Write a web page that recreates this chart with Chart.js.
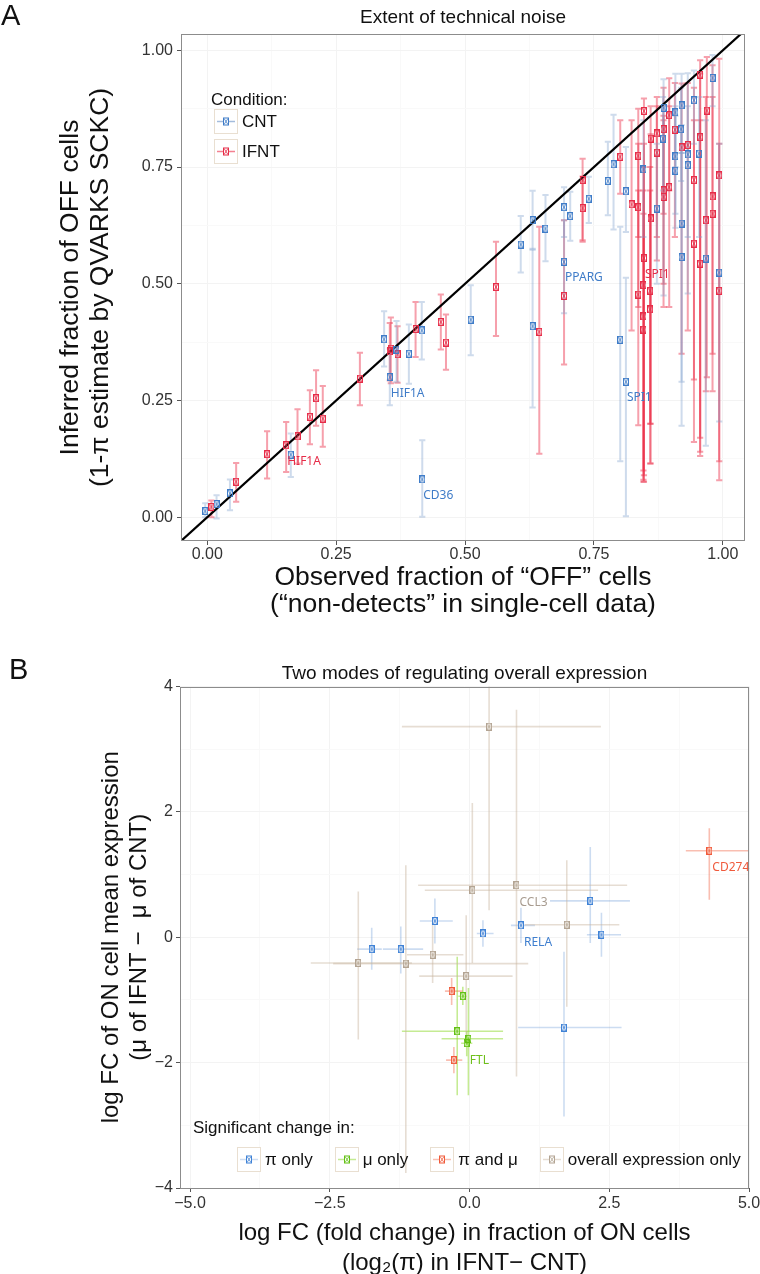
<!DOCTYPE html>
<html>
<head>
<meta charset="utf-8">
<script src="https://cdn.jsdelivr.net/npm/chart.js@4.4.0/dist/chart.umd.min.js"></script>
<style>
html,body{margin:0;padding:0;width:760px;height:1274px;overflow:hidden;background:#fff;font-family:'Liberation Sans',Arial,Helvetica,sans-serif;color:#111;}
.wrap{position:absolute;left:0;width:760px;}
#wrapA{top:0;height:625px;}
#wrapB{top:625px;height:660px;}
.panel{position:absolute;font-size:29px;line-height:29px;color:#111;}
.leg{position:absolute;font-size:17px;color:#111;}
.legtitle{position:absolute;font-size:17px;line-height:20px;color:#111;white-space:nowrap;}
.item{display:flex;align-items:center;height:25px;white-space:nowrap;flex-shrink:0;}
.item svg{display:block;margin-right:4px;flex-shrink:0;}
.row{position:absolute;display:flex;align-items:center;width:560px;}
.row .item{margin-right:22px;}
</style>
</head>
<body>
<div class="wrap" id="wrapA"><canvas id="chartA" width="760" height="625"></canvas></div>
<div class="wrap" id="wrapB"><canvas id="chartB" width="760" height="660"></canvas></div>
<div class="panel" style="left:1px;top:1px;">A</div>
<div class="panel" style="left:9px;top:655px;">B</div>
<div class="legtitle" style="left:211px;top:90px;">Condition:</div>
<div class="leg" id="legA" style="left:214px;top:109px;"></div>
<div class="legtitle" style="left:193px;top:1118px;">Significant change in:</div>
<div class="row" id="legB" style="left:237px;top:1147px;"></div>
<script>
// ---------------- Panel A data: [observed x, inferred y, lower, upper] ----------------
const xTicksA = [0, 0.25, 0.5, 0.75, 1];
const yTicksA = [0, 0.25, 0.5, 0.75, 1];
const seriesNamesA = ['CNT', 'IFNT'];
const cntPts = [
  [-0.004, 0.013, 0.000, 0.030],
  [0.018, 0.028, -0.003, 0.047],
  [0.044, 0.051, 0.015, 0.081],
  [0.162, 0.134, 0.086, 0.179],
  [0.343, 0.381, 0.323, 0.441],
  [0.354, 0.300, 0.240, 0.361],
  [0.367, 0.359, 0.290, 0.420],
  [0.391, 0.350, 0.286, 0.413],
  [0.416, 0.400, 0.338, 0.461],
  [0.417, 0.081, 0.001, 0.165],
  [0.511, 0.423, 0.347, 0.497],
  [0.608, 0.584, 0.524, 0.645],
  [0.631, 0.636, 0.573, 0.699],
  [0.631, 0.409, 0.235, 0.575],
  [0.656, 0.618, 0.548, 0.690],
  [0.692, 0.664, 0.600, 0.707],
  [0.692, 0.547, 0.437, 0.636],
  [0.704, 0.645, 0.592, 0.697],
  [0.740, 0.682, 0.630, 0.729],
  [0.777, 0.720, 0.647, 0.804],
  [0.788, 0.756, 0.616, 0.862],
  [0.801, 0.380, 0.120, 0.622],
  [0.812, 0.698, 0.611, 0.793],
  [0.812, 0.290, 0.002, 0.513],
  [0.846, 0.745, 0.600, 0.850],
  [0.872, 0.661, 0.500, 0.800],
  [0.884, 0.811, 0.700, 0.900],
  [0.885, 0.877, 0.475, 0.938],
  [0.908, 0.867, 0.750, 0.950],
  [0.908, 0.773, 0.650, 0.880],
  [0.908, 0.742, 0.620, 0.860],
  [0.919, 0.831, 0.720, 0.920],
  [0.920, 0.882, 0.780, 0.950],
  [0.920, 0.629, 0.196, 0.840],
  [0.920, 0.557, 0.290, 0.780],
  [0.932, 0.777, 0.479, 0.951],
  [0.932, 0.754, 0.600, 0.880],
  [0.944, 0.893, 0.800, 0.957],
  [0.954, 0.779, 0.600, 0.900],
  [0.967, 0.554, 0.153, 0.850],
  [0.980, 0.941, 0.880, 0.990],
  [0.993, 0.524, 0.205, 0.800]
];
const ifntPts = [
  [0.008, 0.022, 0.000, 0.036],
  [0.056, 0.076, 0.033, 0.116],
  [0.116, 0.135, 0.083, 0.184],
  [0.153, 0.154, 0.097, 0.204],
  [0.175, 0.173, 0.115, 0.231],
  [0.199, 0.215, 0.156, 0.272],
  [0.211, 0.255, 0.196, 0.315],
  [0.224, 0.211, 0.151, 0.281],
  [0.296, 0.297, 0.240, 0.352],
  [0.354, 0.355, 0.293, 0.416],
  [0.356, 0.361, 0.287, 0.428],
  [0.369, 0.349, 0.288, 0.409],
  [0.404, 0.403, 0.343, 0.461],
  [0.453, 0.418, 0.359, 0.477],
  [0.463, 0.374, 0.316, 0.434],
  [0.560, 0.493, 0.388, 0.590],
  [0.644, 0.397, 0.136, 0.622],
  [0.692, 0.474, 0.327, 0.636],
  [0.728, 0.722, 0.593, 0.768],
  [0.728, 0.662, 0.590, 0.730],
  [0.801, 0.772, 0.693, 0.850],
  [0.823, 0.670, 0.400, 0.850],
  [0.836, 0.774, 0.600, 0.875],
  [0.836, 0.664, 0.450, 0.800],
  [0.836, 0.477, 0.197, 0.700],
  [0.847, 0.870, 0.076, 0.897],
  [0.847, 0.555, 0.090, 0.800],
  [0.846, 0.497, 0.080, 0.750],
  [0.846, 0.430, 0.100, 0.700],
  [0.846, 0.402, 0.076, 0.650],
  [0.860, 0.811, 0.115, 0.880],
  [0.860, 0.640, 0.200, 0.820],
  [0.859, 0.485, 0.115, 0.750],
  [0.859, 0.445, 0.200, 0.700],
  [0.872, 0.822, 0.600, 0.900],
  [0.872, 0.781, 0.550, 0.880],
  [0.885, 0.831, 0.650, 0.920],
  [0.885, 0.700, 0.450, 0.860],
  [0.885, 0.686, 0.500, 0.850],
  [0.896, 0.861, 0.700, 0.940],
  [0.896, 0.707, 0.450, 0.880],
  [0.907, 0.830, 0.600, 0.930],
  [0.920, 0.792, 0.350, 0.929],
  [0.932, 0.797, 0.400, 0.930],
  [0.944, 0.722, 0.161, 0.920],
  [0.944, 0.586, 0.295, 0.850],
  [0.956, 0.814, 0.140, 0.950],
  [0.956, 0.948, 0.131, 0.979],
  [0.956, 0.543, 0.170, 0.850],
  [0.967, 0.636, 0.270, 0.900],
  [0.969, 0.871, 0.300, 0.986],
  [0.980, 0.687, 0.270, 0.968],
  [0.980, 0.650, 0.350, 0.900],
  [0.993, 0.732, 0.079, 0.982],
  [0.993, 0.485, 0.120, 0.800]
];
const identityLine = [-0.1, 1.1];
// gene labels: [text, series, point index]
const geneLabelsA = [
  ['HIF1A', 'CNT', 5], ['HIF1A', 'IFNT', 3], ['CD36', 'CNT', 9],
  ['PPARG', 'CNT', 16], ['SPI1', 'CNT', 23], ['SPI1', 'IFNT', 26]
];

// ---------------- Panel B data: [x, y, xLow, xHigh, yLow, yHigh] ----------------
const xTicksB = [-5, -2.5, 0, 2.5, 5];
const yTicksB = [-4, -2, 0, 2, 4];
const seriesNamesB = ['π only', 'μ only', 'π and μ', 'overall expression only'];
const piOnlyPts = [
  [-1.75, -0.19, -2.01, -1.57, -0.52, 0.15],
  [-1.23, -0.19, -1.55, -0.83, -0.58, 0.17],
  [-0.62, 0.26, -0.89, -0.30, -0.10, 0.62],
  [0.24, 0.06, 0.13, 0.43, -0.15, 0.27],
  [0.92, 0.19, 0.74, 1.17, -0.09, 0.47],
  [2.16, 0.58, 1.44, 2.87, -0.09, 1.44],
  [2.36, 0.04, 2.10, 2.71, -0.31, 0.39],
  [1.69, -1.44, 0.87, 2.72, -2.86, -0.23]
];
const muOnlyPts = [
  [-0.12, -0.94, -0.20, -0.05, -1.08, -0.79],
  [-0.22, -1.50, -1.21, 0.60, -2.52, -0.31],
  [-0.02, -1.62, -0.50, 0.60, -2.52, -0.81],
  [-0.05, -1.69, -0.15, 0.05, -1.90, -1.50]
];
const piMuPts = [
  [-0.32, -0.86, -0.44, -0.12, -1.08, -0.65],
  [-0.28, -1.96, -0.42, -0.13, -2.17, -1.75],
  [4.29, 1.38, 3.87, 5.05, 0.60, 1.74]
];
const overallPts = [
  [0.35, 3.36, -1.21, 2.35, 0.43, 4.20],
  [0.84, 0.83, -0.92, 2.82, -2.22, 3.63],
  [0.05, 0.75, -0.80, 2.30, -0.41, 2.14],
  [1.74, 0.20, 0.99, 2.68, -1.11, 1.23],
  [-1.99, -0.41, -2.84, -1.03, -1.63, 0.73],
  [-1.14, -0.42, -2.44, 1.05, -3.76, 1.15],
  [-0.66, -0.28, -1.12, -0.11, -0.73, 0.23],
  [-0.06, -0.62, -0.90, 0.77, -1.60, 0.35]
];
const geneLabelsB = [
  ['CCL3', 'overall', 1], ['RELA', 'pi', 4], ['CD274', 'pimu', 2], ['FTL', 'mu', 3]
];

// ---------------- styling ----------------
Chart.defaults.font.family = "'Liberation Sans', Arial, Helvetica, sans-serif";
Chart.defaults.color = '#222';
Chart.defaults.animation = false;

const colA = {
  CNT: {mark: '#3f7cc8', bar: 'rgba(125,160,205,0.38)', key: 'rgba(125,160,205,0.7)'},
  IFNT: {mark: '#e62c48', bar: 'rgba(236,45,72,0.45)', key: 'rgba(236,45,72,0.6)'}
};
const colB = {
  pi: {mark: '#3f82d6', bar: 'rgba(95,145,210,0.32)', text: '#3f7fcf'},
  mu: {mark: '#62c014', bar: 'rgba(140,215,40,0.5)', text: '#6fbf1c'},
  pimu: {mark: '#f05a3a', bar: 'rgba(240,100,70,0.42)', text: '#f05a3c'},
  overall: {mark: '#b3a493', bar: 'rgba(200,180,158,0.45)', text: '#a89c90'}
};

function markerCanvas(color, w, h) {
  const c = document.createElement('canvas');
  c.width = w; c.height = h;
  const g = c.getContext('2d');
  g.strokeStyle = color; g.lineWidth = 1;
  g.strokeRect(0.5, 0.5, w - 1, h - 1);
  g.lineWidth = 0.8;
  g.beginPath();
  g.moveTo(1, 1); g.lineTo(w - 1, h - 1);
  g.moveTo(w - 1, 1); g.lineTo(1, h - 1);
  g.stroke();
  return c;
}

function vBars(pts, color, width, cap) {
  return pts.map(p => {
    const x = p[0], lo = p[2], hi = p[3];
    return {
      data: [{x, y: lo}, {x, y: hi}, {x, y: null},
             {x: x - cap, y: lo}, {x: x + cap, y: lo}, {x, y: null},
             {x: x - cap, y: hi}, {x: x + cap, y: hi}],
      showLine: true, spanGaps: false, borderColor: color, borderWidth: width,
      pointRadius: 0, pointHoverRadius: 0, order: 3
    };
  });
}
function crossBars(pts, color, width) {
  return pts.map(p => {
    const [x, y, xl, xh, yl, yh] = p;
    return {
      data: [{x: xl, y}, {x: xh, y}, {x, y: null}, {x, y: yl}, {x, y: yh}],
      showLine: true, spanGaps: false, borderColor: color, borderWidth: width,
      pointRadius: 0, pointHoverRadius: 0, order: 3
    };
  });
}
function pointsDs(pts, color, w, h) {
  return {
    data: pts.map(p => ({x: p[0], y: p[1]})),
    pointStyle: markerCanvas(color, w, h), pointRadius: 4, pointHoverRadius: 4,
    showLine: false, order: 0
  };
}

const frame = {
  id: 'frame',
  afterDraw(chart) {
    const {ctx, chartArea: a} = chart;
    ctx.save();
    ctx.strokeStyle = '#8c8c8c'; ctx.lineWidth = 1;
    ctx.strokeRect(Math.round(a.left) + 0.5, Math.round(a.top) + 0.5,
                   Math.round(a.right - a.left) - 1, Math.round(a.bottom - a.top) - 1);
    ctx.restore();
  }
};
const geneLabels = {
  id: 'geneLabels',
  afterDatasetsDraw(chart, args, opts) {
    const {ctx, scales: {x, y}} = chart;
    ctx.save();
    ctx.font = opts.font;
    ctx.textAlign = 'left'; ctx.textBaseline = 'middle';
    opts.items.forEach(it => {
      ctx.fillStyle = it.color;
      ctx.fillText(it.text, x.getPixelForValue(it.x) + opts.dx, y.getPixelForValue(it.y) + opts.dy);
    });
    ctx.restore();
  }
};

function steps(a, b, s) { const out = []; for (let v = a; v <= b + 1e-9; v += s) out.push(+v.toFixed(4)); return out; }

function makeScale(o) {
  const majors = new Set(o.major);
  return {
    type: 'linear', min: o.min, max: o.max,
    afterBuildTicks: s => { s.ticks = o.grid.map(v => ({value: v})); },
    afterFit: s => {
      if (o.width !== undefined) s.width = o.width;
      if (o.height !== undefined) s.height = o.height;
      s.paddingLeft = 0; s.paddingRight = 0; s.paddingTop = 0; s.paddingBottom = 0;
    },
    ticks: {
      autoSkip: false, maxRotation: 0, minRotation: 0, padding: o.tpad,
      font: {size: 16}, color: '#333',
      callback: v => majors.has(v) ? o.fmt(v) : ''
    },
    grid: {
      color: c => (c.tick && majors.has(c.tick.value)) ? '#f3f3f3' : '#f9f9f9',
      tickColor: c => (c.tick && majors.has(c.tick.value)) ? '#555' : 'rgba(0,0,0,0)',
      tickLength: 4, lineWidth: 1
    },
    border: {display: false},
    title: {display: true, text: o.title, color: '#111', font: o.tfont, padding: o.tpadding}
  };
}

// ---------------- Chart A ----------------
const capA = 0.006;
const dsA = [].concat(
  vBars(cntPts, colA.CNT.bar, 2, capA),
  vBars(ifntPts, colA.IFNT.bar, 2, capA),
  [{data: identityLine.map(v => ({x: v, y: v})), showLine: true, borderColor: '#000', borderWidth: 2.2, pointRadius: 0, order: 1}],
  [pointsDs(cntPts, colA.CNT.mark, 6, 8), pointsDs(ifntPts, colA.IFNT.mark, 6, 8)]
);
const ptsBySeriesA = {CNT: cntPts, IFNT: ifntPts};

new Chart(document.getElementById('chartA'), {
  type: 'scatter',
  data: {datasets: dsA},
  plugins: [frame, geneLabels],
  options: {
    responsive: false, animation: false,
    layout: {padding: {left: 0, right: 15, top: 0, bottom: 0}},
    plugins: {
      legend: {display: false}, tooltip: {enabled: false},
      title: {display: true, text: 'Extent of technical noise', fullSize: false, color: '#111',
              font: {size: 19, weight: 'normal', lineHeight: 1.2}, padding: {top: 6, bottom: 5.2}},
      geneLabels: {
        font: "12px 'Noto Sans', 'Open Sans', sans-serif", dx: 1, dy: 16,
        items: geneLabelsA.map(([t, s, i]) => ({text: t, x: ptsBySeriesA[s][i][0], y: ptsBySeriesA[s][i][1], color: colA[s].mark}))
      }
    },
    scales: {
      x: makeScale({min: -0.051, max: 1.043, major: xTicksA, grid: steps(0, 1, 0.125), fmt: v => v.toFixed(2), tpad: 0,
        height: 84, title: ['Observed fraction of \u201cOFF\u201d cells', '(\u201cnon-detects\u201d in single-cell data)'],
        tfont: {size: 26.5, lineHeight: 1.02}, tpadding: {top: 0, bottom: 6.5}}),
      y: makeScale({min: -0.051, max: 1.035, major: yTicksA, grid: steps(0, 1, 0.125), fmt: v => v.toFixed(2), tpad: 4,
        width: 181, title: ['Inferred fraction of OFF cells', '(1-\u03c0 estimate by QVARKS SCKC)'],
        tfont: {size: 26.5, lineHeight: 1.13}, tpadding: {top: 56, bottom: 0}})
    }
  }
});

// ---------------- Chart B ----------------
const ptsBySeriesB = {pi: piOnlyPts, mu: muOnlyPts, pimu: piMuPts, overall: overallPts};
const dsB = [].concat(
  crossBars(overallPts, colB.overall.bar, 1.6),
  crossBars(piOnlyPts, colB.pi.bar, 1.6),
  crossBars(muOnlyPts, colB.mu.bar, 1.6),
  crossBars(piMuPts, colB.pimu.bar, 1.6),
  [pointsDs(overallPts, colB.overall.mark, 6, 8), pointsDs(piOnlyPts, colB.pi.mark, 6, 8),
   pointsDs(muOnlyPts, colB.mu.mark, 6, 8), pointsDs(piMuPts, colB.pimu.mark, 6, 8)]
);
const fmtB = v => (v < 0 ? '\u2212' : '') + Math.abs(v).toFixed(1);
const fmtBy = v => (v < 0 ? '\u2212' : '') + Math.abs(v);

new Chart(document.getElementById('chartB'), {
  type: 'scatter',
  data: {datasets: dsB},
  plugins: [frame, geneLabels],
  options: {
    responsive: false, animation: false,
    layout: {padding: {left: 0, right: 11, top: 0, bottom: 0}},
    plugins: {
      legend: {display: false}, tooltip: {enabled: false},
      title: {display: true, text: 'Two modes of regulating overall expression', fullSize: false, color: '#111',
              font: {size: 19, weight: 'normal', lineHeight: 1.2}, padding: {top: 37.6, bottom: 1.1}},
      geneLabels: {
        font: "12px 'Noto Sans', 'Open Sans', sans-serif", dx: 3, dy: 17,
        items: geneLabelsB.map(([t, s, i]) => ({text: t, x: ptsBySeriesB[s][i][0], y: ptsBySeriesB[s][i][1], color: colB[s].text}))
      }
    },
    scales: {
      x: makeScale({min: -5.18, max: 5.0, major: xTicksB, grid: steps(-5, 5, 1.25), fmt: fmtB, tpad: 2,
        height: 97, title: ['log FC (fold change) in fraction of ON cells', '(log\u2082(\u03c0) in IFNT\u2212 CNT)'],
        tfont: {size: 24, lineHeight: 1.25}, tpadding: {top: 0, bottom: 7}}),
      y: makeScale({min: -4, max: 4, major: yTicksB, grid: steps(-4, 4, 1), fmt: fmtBy, tpad: 3,
        width: 180, title: ['log FC of ON cell mean expression', '(\u03bc of IFNT \u2212  \u03bc of CNT)'],
        tfont: {size: 24, lineHeight: 1.1667}, tpadding: {top: 97, bottom: 0}})
    }
  }
});

// ---------------- HTML legends ----------------
function keySvg(lineColor, markColor) {
  return '<svg width="24" height="25" viewBox="0 0 24 25">' +
    '<rect x="0.5" y="0.5" width="23" height="24" fill="#fff" stroke="#e9dfd1"/>' +
    '<line x1="3" y1="12.5" x2="21" y2="12.5" stroke="' + lineColor + '" stroke-width="1.5"/>' +
    '<rect x="9.5" y="9" width="5" height="7" fill="#fff" stroke="' + markColor + '" stroke-width="1"/>' +
    '<path d="M10 9.5 L14 15.5 M14 9.5 L10 15.5" stroke="' + markColor + '" stroke-width="0.8"/></svg>';
}
document.getElementById('legA').innerHTML = seriesNamesA.map(n =>
  '<div class="item" style="margin-bottom:5px;">' + keySvg(colA[n].key, colA[n].mark) + '<span>' + n + '</span></div>').join('');
const keysB = ['pi', 'mu', 'pimu', 'overall'];
document.getElementById('legB').innerHTML = seriesNamesB.map((n, i) =>
  '<div class="item">' + keySvg(colB[keysB[i]].bar, colB[keysB[i]].mark) + '<span style="font-size:17px;">' + n + '</span></div>').join('');
</script>
</body>
</html>
